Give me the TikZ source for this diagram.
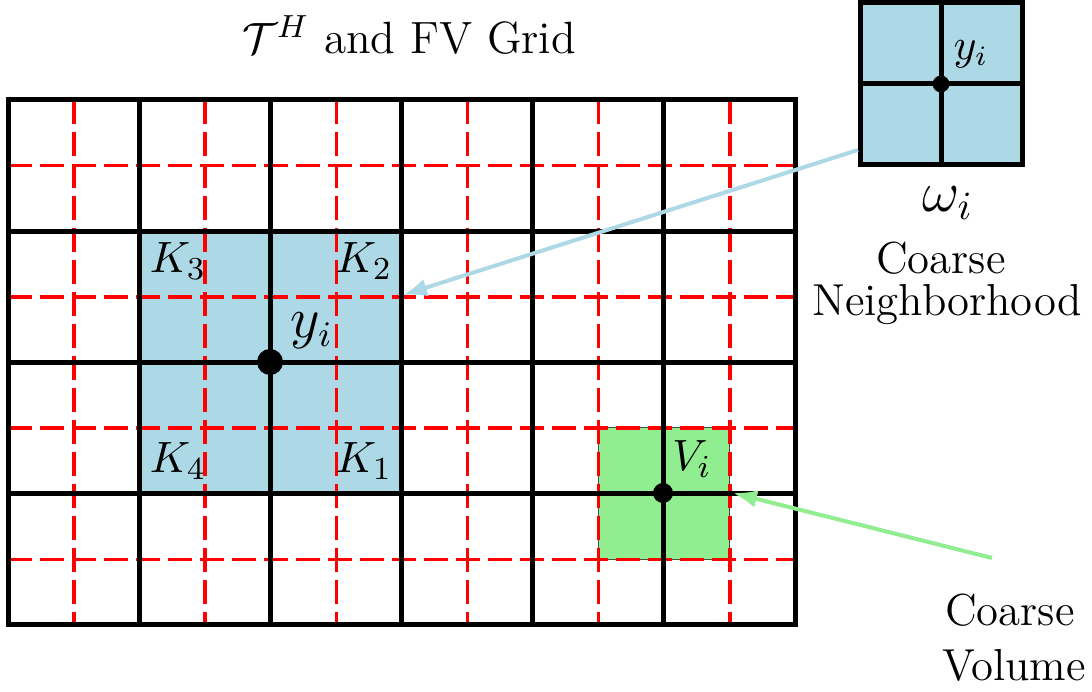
\documentclass[tikz,border=0pt]{standalone}
\usetikzlibrary{arrows.meta}
\definecolor{lblue}{RGB}{173,216,230}
\definecolor{lgreen}{RGB}{144,238,144}
\begin{document}
\begin{tikzpicture}[x=0.25pt,y=-0.25pt,
  coarse/.style={line width=1.25pt,black},
  fine/.style={line width=0.9pt,red,dash pattern=on 6pt off 2pt},
  lbl/.style={font=\fontsize{11.2}{14}\selectfont, inner sep=0pt},
  dot/.style={circle,fill=black,inner sep=0pt},
  conn/.style={line width=1pt,-{Latex[length=6pt,width=4.5pt]}}]
\useasboundingbox (0,0) rectangle (1092,692);
% fills
\node[fill=lblue,inner sep=0pt,minimum size=65.6pt] (omega) at (270,362) {};
\node[fill=lgreen,draw=black!70,line width=0.2pt,inner sep=0pt,minimum size=32.8pt] (vol) at (663.5,493.5) {};
% fine grid
\foreach \i in {0,...,5} \draw[fine] ({74+131.17*\i},100) -- ({74+131.17*\i},625);
\foreach \j in {0,...,3} \draw[fine] (8,{165.6+131.25*\j}) -- (795,{165.6+131.25*\j});
% coarse grid
\foreach \i in {1,...,5} \draw[coarse] ({8+131.17*\i},100) -- ({8+131.17*\i},625);
\foreach \j in {1,...,3} \draw[coarse] (8,{100+131.25*\j}) -- (795,{100+131.25*\j});
\draw[coarse] (8,100) rectangle (795,625);
% dots
\node[dot,minimum size=6.5pt] (yi) at (270,362) {};
\node[dot,minimum size=5pt] (vi) at (663,493) {};
% labels
\node[lbl,font=\fontsize{11.3}{14}\selectfont] (title) at (409,35) {$\mathcal{T}^H$ and FV Grid};
\node[lbl] (k3) at (178,261) {$K_3$};
\node[lbl] (k2) at (364,261) {$K_2$};
\node[lbl] (k4) at (178,461) {$K_4$};
\node[lbl] (k1) at (364,461) {$K_1$};
\node[lbl,font=\fontsize{13.5}{16}\selectfont] (yil) at (312,331) {$y_i$};
\node[lbl] (vil) at (692,459) {$V_i$};
% inset
\node[fill=lblue,draw=black,line width=1.25pt,inner sep=0pt,minimum size=40.5pt] (inset) at (941,84) {};
\draw[coarse] (inset.north) -- (inset.south);
\draw[coarse] (inset.west) -- (inset.east);
\node[dot,minimum size=4.2pt] (iyi) at (941,84) {};
\node[lbl,font=\fontsize{10.5}{13}\selectfont] (iyil) at (971,54) {$y_i$};
\node[lbl,font=\fontsize{14}{17}\selectfont] (om) at (948,203) {$\omega_i$};
\node[lbl] (cn1) at (941,258) {Coarse};
\node[lbl] (cn2) at (947,305) {Neighborhood};
\node[lbl] (cv1) at (1010,610) {Coarse};
\node[lbl] (cv2) at (1014,665) {Volume};
% connectors
\coordinate (a1) at (858,150);
\coordinate (a2) at (403,295);
\coordinate (b1) at (992,558);
\coordinate (b2) at (733,493);
\draw[conn,lblue] (a1) -- (a2);
\draw[conn,lgreen] (b1) -- (b2);
\end{tikzpicture}
\end{document}
